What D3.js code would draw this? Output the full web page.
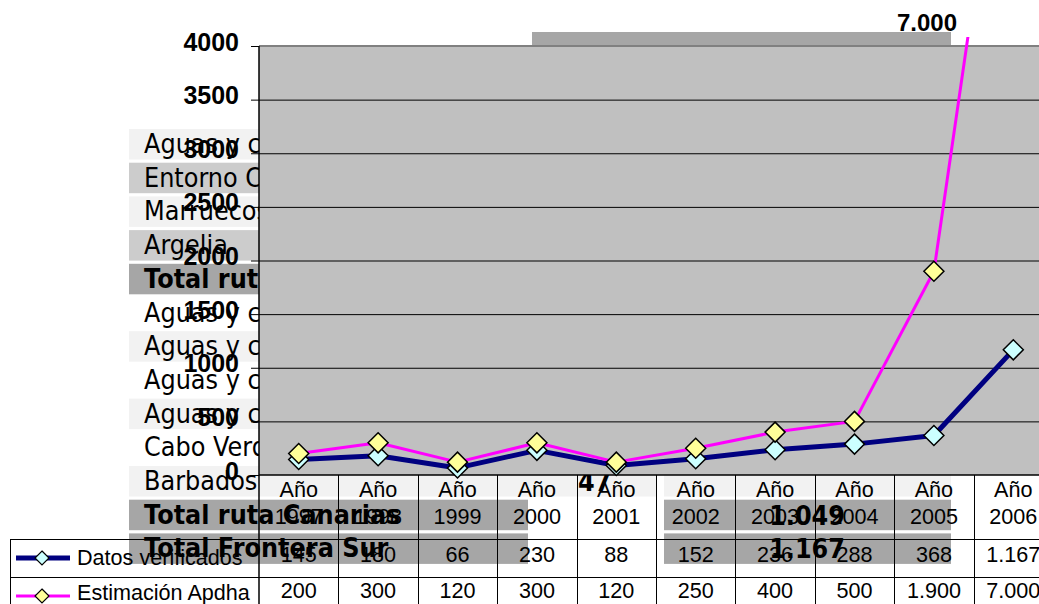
<!DOCTYPE html>
<html lang="es">
<head>
    <meta charset="utf-8">
    <script type="application/javascript" src="https://d3js.org/d3.v7.min.js"></script>
    <style>
        body { margin: 0; background: #fff; }
        .sheet { font-family: "DejaVu Sans", sans-serif; font-size: 24px; fill: #000; }
        .sheet.bold { font-weight: bold; }
        .chart text { font-family: "Liberation Sans", Arial, sans-serif; fill: #000; }
        .cell { font-size: 21.6px; }
    </style>
</head>
<body>
<script type="application/javascript">

    // chart data
    let years = ['1997', '1998', '1999', '2000', '2001', '2002', '2003', '2004', '2005', '2006'];
    let verified = [145, 180, 66, 230, 88, 152, 236, 288, 368, 1167];
    let estimated = [200, 300, 120, 300, 120, 250, 400, 500, 1900, 7000];
    let seriesNames = ['Datos verificados', 'Estimación Apdha'];
    let yTicks = [0, 500, 1000, 1500, 2000, 2500, 3000, 3500, 4000];

    // spreadsheet cells showing behind the chart
    let sheetLabels = ['Aguas y costas', 'Entorno Ceuta', 'Marruecos', 'Argelia', 'Total ruta Estrecho',
        'Aguas y costas', 'Aguas y costas', 'Aguas y costas', 'Aguas y costas', 'Cabo Verde', 'Barbados',
        'Total ruta Canarias', 'Total Frontera Sur'];
    let sheetFills = ['#f2f2f2', '#cccccc', '#f2f2f2', '#cccccc', '#a6a6a6', 'none', '#f2f2f2', 'none',
        '#f2f2f2', 'none', '#f2f2f2', '#a6a6a6', '#a6a6a6'];
    let sheetBold = [false, false, false, false, true, false, false, false, false, false, false, true, true];
    let sheetTotals = ['1.049', '1.167'];

    let fmt = d3.formatLocale({decimal: ',', thousands: '.', grouping: [3], currency: ['', '€']}).format(',d');

    let svg = d3.select('body').append('svg')
        .attr('width', 1039).attr('height', 604);

    // ---- spreadsheet layer ----
    let sheet = svg.append('g');
    let rowTop = d3.scaleLinear().domain([0, 1]).range([129, 162.7]);
    let tall = function (px, py) { return 'translate(' + px + ',' + py + ') scale(1,1.14)'; };

    sheet.append('rect').attr('x', 532).attr('y', 32).attr('width', 419).attr('height', 14).attr('fill', '#a6a6a6');

    sheetLabels.forEach(function (label, i) {
        let y0 = rowTop(i);
        let fill = sheetFills[i];
        if (fill !== 'none') {
            let w = i >= 11 ? 399 : (i === 10 ? 528 : 130);
            sheet.append('rect').attr('x', 129).attr('y', y0).attr('width', w).attr('height', 30.5).attr('fill', fill);
            if (i >= 10) {
                sheet.append('rect').attr('x', 664).attr('y', y0).attr('width', 287).attr('height', 30.5).attr('fill', fill);
            }
        }
        sheet.append('text')
            .attr('class', sheetBold[i] ? 'sheet bold' : 'sheet')
            .attr('transform', tall(144, y0 + 24))
            .text(label);
    });
    sheet.append('text').attr('class', 'sheet bold').attr('transform', tall(578, rowTop(10) + 25)).text('47');
    sheetTotals.forEach(function (t, i) {
        sheet.append('text').attr('class', 'sheet bold')
            .attr('transform', tall(845, rowTop(11 + i) + 25))
            .attr('text-anchor', 'end').text(t);
    });

    // ---- chart layer ----
    let chart = svg.append('g').attr('class', 'chart');
    let plotLeft = 259, plotTop = 46, plotBottom = 475;
    let x = d3.scaleBand().domain(years).range([plotLeft, plotLeft + 79.4 * years.length]);
    let y = d3.scaleLinear().domain([0, 4000]).range([plotBottom, plotTop]);

    chart.append('rect').attr('x', plotLeft).attr('y', plotTop).attr('width', 1039 - plotLeft)
        .attr('height', plotBottom - plotTop).attr('fill', '#c0c0c0');
    chart.append('line').attr('x1', plotLeft).attr('x2', 1039).attr('y1', plotTop).attr('y2', plotTop)
        .attr('stroke', '#808080').attr('stroke-width', 2);

    chart.append('g').selectAll('line').data(yTicks.slice(1, -1)).enter().append('line')
        .attr('x1', plotLeft).attr('x2', 1039)
        .attr('y1', function (d) { return y(d) + 0.5; })
        .attr('y2', function (d) { return y(d) + 0.5; })
        .attr('stroke', '#000').attr('stroke-width', 1);

    let yAxis = chart.append('g').attr('transform', 'translate(' + plotLeft + ',0)')
        .call(d3.axisLeft(y).tickValues(yTicks).tickSize(8).tickPadding(12).tickFormat(d3.format('d')));
    yAxis.select('.domain').remove();
    yAxis.selectAll('.tick line').attr('stroke', '#000');
    yAxis.selectAll('.tick text').attr('dy', 4).style('font-size', '25px').style('font-weight', 'bold')
        .attr('fill', '#000');

    // data table
    let table = chart.append('g');
    let rowLines = [539, 577];
    rowLines.forEach(function (ry) {
        table.append('line').attr('x1', 10).attr('x2', 1039).attr('y1', ry + 0.5).attr('y2', ry + 0.5)
            .attr('stroke', '#000');
    });
    table.append('line').attr('x1', 10.5).attr('x2', 10.5).attr('y1', 539).attr('y2', 604).attr('stroke', '#000');
    table.append('line').attr('x1', plotLeft).attr('x2', plotLeft).attr('y1', plotTop).attr('y2', 604)
        .attr('stroke', '#000').attr('stroke-width', 1.5);
    table.append('line').attr('x1', plotLeft).attr('x2', 1039).attr('y1', plotBottom).attr('y2', plotBottom)
        .attr('stroke', '#000').attr('stroke-width', 1.5);
    table.selectAll('.sep').data(years.slice(1)).enter().append('line')
        .attr('x1', function (d) { return Math.round(x(d)) + 0.5; })
        .attr('x2', function (d) { return Math.round(x(d)) + 0.5; })
        .attr('y1', plotBottom).attr('y2', 604).attr('stroke', '#000');

    let cx = function (d) { return x(d) + x.bandwidth() / 2; };
    table.selectAll('.ano').data(years).enter().append('text').attr('class', 'cell')
        .attr('x', cx).attr('y', 497).attr('text-anchor', 'middle').text('Año');
    table.selectAll('.yr').data(years).enter().append('text').attr('class', 'cell')
        .attr('x', cx).attr('y', 524).attr('text-anchor', 'middle').text(function (d) { return d; });
    [verified, estimated].forEach(function (vals, r) {
        table.selectAll('.v' + r).data(years).enter().append('text').attr('class', 'cell')
            .attr('x', cx).attr('y', r === 0 ? 562 : 598).attr('text-anchor', 'middle')
            .text(function (d, i) { return fmt(vals[i]); });
    });

    // series
    let clip = svg.append('defs').append('clipPath').attr('id', 'plotclip');
    clip.append('rect').attr('x', plotLeft).attr('y', 37).attr('width', 1039 - plotLeft)
        .attr('height', plotBottom - 37 + 12);

    let diamond = function (g, px, py, fill) {
        g.append('path')
            .attr('d', 'M' + px + ',' + (py - 10) + 'L' + (px + 10) + ',' + py + 'L' + px + ',' + (py + 10)
                + 'L' + (px - 10) + ',' + py + 'Z')
            .attr('fill', fill).attr('stroke', '#000').attr('stroke-width', 1.5);
    };

    let styles = [
        {vals: verified, color: '#000080', width: 5, marker: '#ccffff'},
        {vals: estimated, color: '#ff00ff', width: 3, marker: '#ffff99'}
    ];
    let plot = chart.append('g').attr('clip-path', 'url(#plotclip)');
    styles.forEach(function (s) {
        let line = d3.line()
            .x(function (d, i) { return cx(years[i]); })
            .y(function (d) { return y(d); });
        plot.append('path').datum(s.vals).attr('d', line)
            .attr('fill', 'none').attr('stroke', s.color).attr('stroke-width', s.width)
            .attr('stroke-linejoin', 'round');
        s.vals.forEach(function (v, i) {
            if (y(v) > plotTop) diamond(plot, cx(years[i]), y(v), s.marker);
        });
    });

    // data label for the off-scale value
    chart.append('text').attr('x', 957).attr('y', 31).attr('text-anchor', 'end')
        .style('font-size', '24px').style('font-weight', 'bold').text(fmt(estimated[estimated.length - 1]));

    // legend keys inside the table
    styles.forEach(function (s, r) {
        let ly = r === 0 ? 558 : 596;
        table.append('line').attr('x1', 16).attr('x2', 70).attr('y1', ly).attr('y2', ly)
            .attr('stroke', s.color).attr('stroke-width', s.width);
        table.append('path').attr('d', 'M42,' + (ly - 7) + 'L49,' + ly + 'L42,' + (ly + 7) + 'L35,' + ly + 'Z')
            .attr('fill', s.marker).attr('stroke', '#000').attr('stroke-width', 1.2);
        table.append('text').attr('class', 'cell').attr('x', 77).attr('y', r === 0 ? 565 : 600)
            .text(seriesNames[r]);
    });

</script>
</body>
</html>
